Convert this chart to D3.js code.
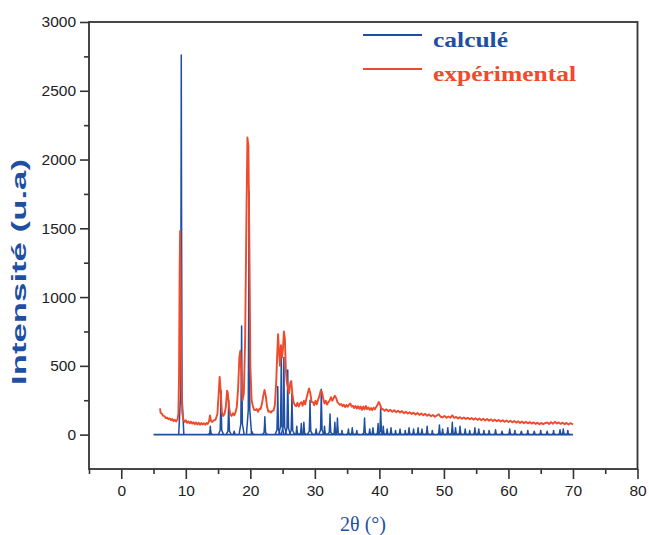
<!DOCTYPE html>
<html>
<head>
<meta charset="utf-8">
<script src="https://cdn.jsdelivr.net/npm/d3@7"></script>
<style>
  body { margin: 0; background: #fff; }
  .tick text { font-family: "Liberation Sans", Arial, sans-serif; font-size: 15.5px; fill: #222; }
</style>
</head>
<body>
<div id="dataviz"></div>
<script>
//tick values of both axes
var xTicks = [0, 10, 20, 30, 40, 50, 60, 70, 80];
var yTicks = [0, 500, 1000, 1500, 2000, 2500, 3000];

//legend labels
var seriesNames = ["calculé", "expérimental"];

//calculated pattern: peak positions (2θ) and heights
var calcTheta = [9.3, 13.8, 15.45, 16.65, 17.5, 18.65, 19.8, 20.3, 22.25, 24.25, 24.8, 25.2, 25.8, 26.45,
    27.2, 27.9, 28.3, 29.25, 30.2, 31.0, 31.5, 32.35, 33.1, 33.5, 34.2, 35.2, 35.8, 36.5, 37.7, 38.5,
    39.0, 39.8, 40.2, 40.6, 41.2, 41.8, 42.5, 43.2, 44.0, 44.6, 45.3, 46.0, 46.6, 47.4, 48.2, 49.3,
    49.8, 50.6, 51.3, 51.8, 52.5, 53.3, 54.0, 54.8, 55.4, 56.2, 57.0, 58.0, 59.0, 60.2, 61.0, 62.0,
    63.0, 64.0, 65.0, 66.0, 67.0, 68.0, 68.5, 69.2];
var calcHeight = [2760, 60, 320, 250, 25, 790, 1770, 20, 130, 350, 610, 560, 470, 300,
    60, 80, 90, 250, 40, 330, 60, 150, 90, 120, 30, 40, 50, 30, 120, 40,
    50, 80, 200, 60, 40, 50, 30, 40, 30, 50, 40, 50, 40, 60, 30, 70,
    40, 50, 90, 50, 60, 40, 30, 50, 40, 30, 30, 35, 25, 40, 30, 25,
    30, 25, 30, 25, 30, 35, 40, 30];
var calcRange = [5, 70];

//experimental pattern: measured points [2θ, intensity]
var expPoints = [
    [6.0,190],[6.1,158],[6.3,152],[6.5,136],[6.7,134],[6.9,120],[7.1,124],[7.3,112],[7.5,118],[7.7,104],
    [7.9,114],[8.1,98],[8.3,108],[8.5,96],[8.7,108],[8.85,150],[8.95,420],[9.05,1200],[9.12,1480],[9.2,1100],
    [9.3,420],[9.45,160],[9.6,112],[9.8,92],[10.0,104],[10.2,86],[10.4,96],[10.6,82],[10.8,94],[11.0,80],
    [11.2,90],[11.4,76],[11.6,88],[11.8,74],[12.0,86],[12.2,72],[12.4,84],[12.6,74],[12.8,82],[13.0,72],
    [13.2,84],[13.4,78],[13.6,96],[13.75,140],[13.9,100],[14.1,92],[14.3,104],[14.6,108],[14.9,150],[15.1,300],
    [15.25,420],[15.4,320],[15.6,160],[15.8,136],[16.0,152],[16.2,200],[16.4,320],[16.5,305],[16.7,200],[16.9,148],
    [17.1,136],[17.3,156],[17.5,140],[17.7,162],[17.9,200],[18.1,330],[18.3,560],[18.45,610],[18.6,450],[18.8,250],
    [19.0,300],[19.2,700],[19.4,1600],[19.55,2160],[19.7,2100],[19.85,1400],[20.0,500],[20.2,250],[20.4,205],[20.6,180],
    [20.8,178],[21.0,186],[21.2,166],[21.4,188],[21.6,186],[21.8,224],[22.0,280],[22.2,325],[22.4,280],[22.6,200],
    [22.8,166],[23.0,170],[23.2,160],[23.4,172],[23.6,176],[23.8,214],[24.0,370],[24.15,560],[24.3,730],[24.45,600],
    [24.6,500],[24.75,650],[24.9,560],[25.05,620],[25.2,750],[25.35,700],[25.5,480],[25.65,380],[25.8,350],[26.0,300],
    [26.2,380],[26.35,390],[26.5,300],[26.7,236],[26.9,214],[27.1,206],[27.3,232],[27.5,204],[27.7,226],[27.9,236],
    [28.1,210],[28.3,246],[28.5,220],[28.7,264],[28.9,300],[29.1,335],[29.3,300],[29.5,236],[29.7,236],[29.9,214],
    [30.1,246],[30.3,220],[30.5,254],[30.7,280],[30.9,320],[31.1,310],[31.3,260],[31.5,226],[31.7,246],[31.9,218],
    [32.1,236],[32.3,248],[32.5,272],[32.7,246],[32.9,266],[33.1,282],[33.3,266],[33.5,236],[33.7,226],[33.9,216],
    [34.1,222],[34.3,206],[34.5,218],[34.7,200],[34.9,216],[35.1,202],[35.3,218],[35.5,226],[35.7,204],[35.9,210],
    [36.1,194],[36.3,208],[36.5,190],[36.7,206],[36.9,188],[37.1,204],[37.3,180],[37.5,204],[37.7,184],[37.9,208],
    [38.1,186],[38.3,198],[38.5,180],[38.7,194],[38.9,178],[39.1,196],[39.3,184],[39.5,200],[39.7,215],[39.9,238],
    [40.1,220],[40.3,186],[40.5,186],[40.8,174],[41.1,184],[41.4,170],[41.7,180],[42.0,166],[42.3,177],[42.6,163],
    [42.9,174],[43.2,160],[43.5,171],[43.8,156],[44.1,167],[44.4,153],[44.7,163],[45.0,150],[45.3,160],[45.6,146],
    [45.9,157],[46.2,143],[46.5,154],[46.8,140],[47.1,151],[47.4,137],[47.7,147],[48.0,134],[48.3,143],[48.6,130],
    [48.9,139],[49.2,148],[49.5,130],[49.8,126],[50.1,136],[50.4,122],[50.7,132],[51.0,123],[51.3,140],[51.6,121],
    [51.9,129],[52.2,117],[52.5,127],[52.8,115],[53.1,125],[53.4,113],[53.7,123],[54.0,111],[54.3,121],[54.6,109],
    [54.9,119],[55.2,107],[55.5,117],[55.8,105],[56.1,115],[56.4,103],[56.7,113],[57.0,101],[57.3,111],[57.6,99],
    [57.9,109],[58.2,97],[58.5,107],[58.8,95],[59.1,105],[59.4,93],[59.7,103],[60.0,91],[60.3,101],[60.6,89],
    [60.9,99],[61.2,87],[61.5,97],[61.8,85],[62.1,95],[62.4,83],[62.7,93],[63.0,82],[63.3,91],[63.6,80],
    [63.9,89],[64.2,78],[64.5,87],[64.8,76],[65.1,85],[65.4,75],[65.7,84],[66.0,88],[66.3,77],[66.6,91],
    [66.9,79],[67.2,93],[67.5,81],[67.8,89],[68.1,78],[68.4,87],[68.7,76],[69.0,85],[69.3,74],[69.6,83],[70.0,75]
];

var blue = "#1f4fa3";
var red = "#ef4a2b";

var svg = d3.select("#dataviz")
    .append("svg")
    .attr("width", 649)
    .attr("height", 535);

//scales
var x = d3.scaleLinear().domain([-5, 80]).range([89, 637.5]);
var y = d3.scaleLinear().domain([-250, 3000]).range([469, 22]);

var line = d3.line()
    .x(function(d){ return x(d[0]); })
    .y(function(d){ return y(d[1]); });

//calculated pattern: flat baseline plus one narrow profile per reflection
svg.append("path")
    .attr("d", line([[calcRange[0], 0], [calcRange[1], 0]]))
    .attr("fill", "none")
    .attr("stroke", blue)
    .attr("stroke-width", 1.6);

var peakShape = [[-0.4, 0], [-0.12, 0.1], [-0.04, 0.6], [0, 1], [0.04, 0.6], [0.12, 0.1], [0.4, 0]];

svg.append("g")
    .selectAll("path")
    .data(calcTheta)
    .join("path")
    .attr("d", function(t, i){
        return line(peakShape.map(function(s){ return [t + s[0], s[1] * calcHeight[i]]; }));
    })
    .attr("fill", "none")
    .attr("stroke", blue)
    .attr("stroke-width", 1.5)
    .attr("stroke-linejoin", "round");

//experimental pattern drawn on top
svg.append("path")
    .datum(expPoints)
    .attr("d", line)
    .attr("fill", "none")
    .attr("stroke", red)
    .attr("stroke-width", 1.9)
    .attr("stroke-linejoin", "round");

//bottom axis with minor ticks every 5
var xMinor = d3.range(-5, 80, 5).filter(function(v){ return v % 10 !== 0; });
svg.append("g")
    .attr("transform", "translate(0,469)")
    .call(d3.axisBottom(x).tickValues(xMinor).tickSize(5).tickFormat(""))
    .call(function(g){ g.select(".domain").remove(); });
svg.append("g")
    .attr("transform", "translate(0,469)")
    .call(d3.axisBottom(x).tickValues(xTicks).tickSize(10).tickPadding(6).tickFormat(d3.format("d")))
    .call(function(g){ g.select(".domain").remove(); });

//left axis with minor ticks every 250
var yMinor = d3.range(250, 3000, 500);
svg.append("g")
    .attr("transform", "translate(89,0)")
    .call(d3.axisLeft(y).tickValues(yMinor).tickSize(5).tickFormat(""))
    .call(function(g){ g.select(".domain").remove(); });
svg.append("g")
    .attr("transform", "translate(89,0)")
    .call(d3.axisLeft(y).tickValues(yTicks).tickSize(9).tickPadding(4).tickFormat(d3.format("d")))
    .call(function(g){ g.select(".domain").remove(); });

svg.selectAll(".tick line").attr("stroke", "#333").attr("stroke-width", 1.6);

//frame around the plot
svg.append("rect")
    .attr("x", 89)
    .attr("y", 22)
    .attr("width", 637.5 - 89)
    .attr("height", 469 - 22)
    .attr("fill", "none")
    .attr("stroke", "#333")
    .attr("stroke-width", 1.8);

//axis titles
svg.append("text")
    .attr("x", 363)
    .attr("y", 531)
    .attr("text-anchor", "middle")
    .style("font-family", "'Liberation Serif', 'Times New Roman', serif")
    .style("font-size", "20px")
    .style("fill", blue)
    .text("2θ (°)");

svg.append("text")
    .attr("transform", "translate(26,272) rotate(-90)")
    .attr("text-anchor", "middle")
    .attr("textLength", 226)
    .attr("lengthAdjust", "spacingAndGlyphs")
    .style("font-family", "'Liberation Sans', Arial, sans-serif")
    .style("font-weight", "bold")
    .style("font-size", "21px")
    .style("fill", blue)
    .text("Intensité (u.a)");

//legend
var legendColors = [blue, red];
var legendWidths = [75, 143];
var legend = svg.append("g")
    .selectAll("g")
    .data(seriesNames)
    .join("g")
    .attr("transform", function(d, i){ return "translate(0," + (i * 34) + ")"; });

legend.append("line")
    .attr("x1", 363)
    .attr("x2", 422)
    .attr("y1", 35)
    .attr("y2", 35)
    .attr("stroke", function(d, i){ return legendColors[i]; })
    .attr("stroke-width", 1.8);

legend.append("text")
    .attr("x", 433)
    .attr("y", 47)
    .attr("textLength", function(d, i){ return legendWidths[i]; })
    .attr("lengthAdjust", "spacingAndGlyphs")
    .style("font-family", "'Liberation Serif', 'Times New Roman', serif")
    .style("font-weight", "bold")
    .style("font-size", "21px")
    .style("fill", function(d, i){ return legendColors[i]; })
    .text(function(d){ return d; });
</script>
</body>
</html>
